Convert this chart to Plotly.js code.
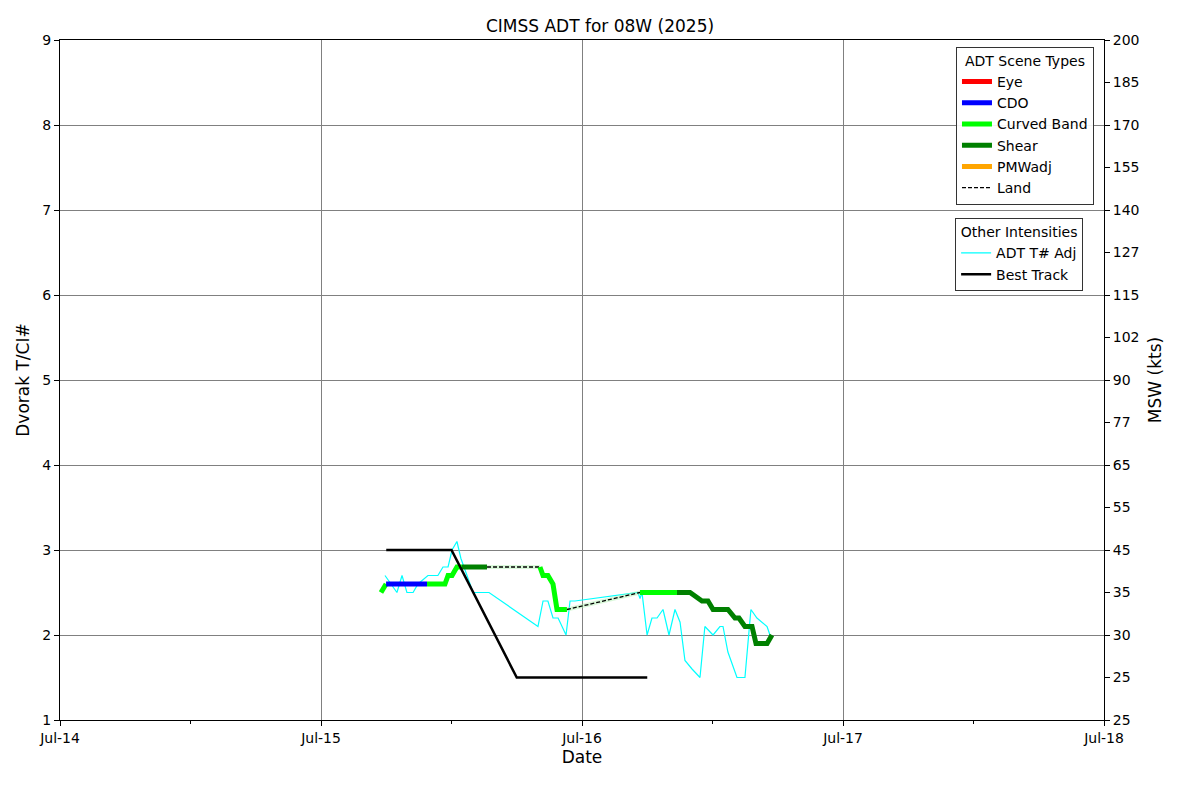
<!DOCTYPE html>
<html>
<head>
<meta charset="utf-8">
<script src="https://cdn.plot.ly/plotly-3.0.1.min.js"></script>
<style>html,body{margin:0;padding:0;background:#fff;}#chart{width:1200px;height:800px;}</style>
</head>
<body>
<div id="chart"></div>
<script>
// ---- Data ----
const sceneNames = ['Eye', 'CDO', 'Curved Band', 'Shear', 'PMWadj', 'Land'];
const sceneColors = ['#ff0000', '#0000ff', '#00ff00', '#008000', '#ffa500', '#000000'];

// ADT final T# with scene type (scene of segment ending at that point)
const adtTimes = ['2025-07-15 05:31','2025-07-15 05:59','2025-07-15 09:45','2025-07-15 11:24','2025-07-15 11:41',
  '2025-07-15 12:03','2025-07-15 12:30','2025-07-15 12:58','2025-07-15 15:16','2025-07-15 20:08',
  '2025-07-15 20:25','2025-07-15 20:52','2025-07-15 21:20','2025-07-15 21:42','2025-07-15 22:37',
  '2025-07-16 05:20','2025-07-16 08:44','2025-07-16 09:56','2025-07-16 11:02','2025-07-16 11:35',
  '2025-07-16 12:03','2025-07-16 13:25','2025-07-16 14:04','2025-07-16 14:26','2025-07-16 14:59',
  '2025-07-16 15:38','2025-07-16 16:00','2025-07-16 17:01','2025-07-16 17:28'];
const adtTnum = [2.5,2.6,2.6,2.6,2.7, 2.7,2.8,2.8,2.8,2.8, 2.7,2.7,2.6,2.3,2.3, 2.5,2.5,2.5,2.4,2.4,
  2.3,2.3,2.2,2.2,2.1, 2.1,1.9,1.9,2.0];
const adtScene = ['Curved Band','Curved Band','CDO','Curved Band','Curved Band',
  'Curved Band','Curved Band','Curved Band','Shear','Land',
  'Curved Band','Curved Band','Curved Band','Curved Band','Curved Band',
  'Land','Curved Band','Shear','Shear','Shear',
  'Shear','Shear','Shear','Shear','Shear',
  'Shear','Shear','Shear','Shear'];

// ADT T# Adj
const adjTimes = ['2025-07-15 05:53','2025-07-15 06:26','2025-07-15 06:59','2025-07-15 07:27','2025-07-15 07:54',
  '2025-07-15 08:28','2025-07-15 08:55','2025-07-15 09:50','2025-07-15 10:45','2025-07-15 11:13',
  '2025-07-15 11:41','2025-07-15 12:03','2025-07-15 12:30','2025-07-15 12:52','2025-07-15 13:25',
  '2025-07-15 13:59','2025-07-15 15:27','2025-07-15 19:57','2025-07-15 20:25','2025-07-15 20:52',
  '2025-07-15 21:20','2025-07-15 21:48','2025-07-15 22:32','2025-07-15 22:54','2025-07-15 23:21',
  '2025-07-16 05:09','2025-07-16 05:20','2025-07-16 05:31','2025-07-16 05:59','2025-07-16 06:26',
  '2025-07-16 06:54','2025-07-16 07:27','2025-07-16 08:00','2025-07-16 08:33','2025-07-16 09:01',
  '2025-07-16 09:28','2025-07-16 10:07','2025-07-16 10:51','2025-07-16 11:18','2025-07-16 12:03',
  '2025-07-16 12:41','2025-07-16 12:58','2025-07-16 13:25','2025-07-16 14:15','2025-07-16 14:59',
  '2025-07-16 15:32','2025-07-16 16:05','2025-07-16 17:01','2025-07-16 17:17'];
const adjTnum = [2.7,2.6,2.5,2.7,2.5, 2.5,2.6,2.7,2.7,2.8, 2.8,3.0,3.1,2.9,2.7, 2.5,2.5,2.1,2.4,2.4,
  2.2,2.2,2.0,2.4,2.4, 2.5,2.43,2.5,2.0,2.2, 2.2,2.3,2.0,2.3,2.15, 1.7,1.6,1.5,2.1,2.0,
  2.1,2.1,1.8,1.5,1.5, 2.3,2.2,2.1,2.0];

// Best Track
const btTimes = ['2025-07-15 06:00','2025-07-15 12:00','2025-07-15 18:00','2025-07-16 00:00','2025-07-16 06:00'];
const btTnum = [3.0, 3.0, 1.5, 1.5, 1.5];

// Axis ticks
const dateTickVals = ['2025-07-14','2025-07-15','2025-07-16','2025-07-17','2025-07-18'];
const dateTickText = ['Jul-14','Jul-15','Jul-16','Jul-17','Jul-18'];
const mswTnum = [1,1.5,2,2.5,3,3.5,4,4.5,5,5.5,6,6.5,7,7.5,8,8.5,9];
const mswLabels = ['25','25','30','35','45','55','65','77','90','102','115','127','140','155','170','185','200'];

// ---- Traces ----
const traces = [];
const FONT = 'DejaVu Sans, sans-serif';

// T# Adj (under scene lines)
traces.push({x: adjTimes, y: adjTnum, mode: 'lines', name: 'ADT T# Adj', legend: 'legend2',
  line: {color: '#00ffff', width: 1.2}});

// scene runs
const runs = [];
for (let i = 1; i < adtTimes.length; i++) {
  const s = adtScene[i];
  const last = runs[runs.length - 1];
  if (last && last.scene === s) {
    last.x.push(adtTimes[i]); last.y.push(adtTnum[i]);
  } else {
    runs.push({scene: s, x: [adtTimes[i-1], adtTimes[i]], y: [adtTnum[i-1], adtTnum[i]]});
  }
}
runs.forEach(r => {
  const idx = sceneNames.indexOf(r.scene);
  if (r.scene === 'Land') {
    traces.push({x: r.x, y: r.y, mode: 'lines', showlegend: false,
      line: {color: 'rgba(170,240,170,0.45)', width: 4}});
    traces.push({x: r.x, y: r.y, mode: 'lines', showlegend: false,
      line: {color: '#000000', width: 1.3, dash: '4px,2px'}});
  } else {
    traces.push({x: r.x, y: r.y, mode: 'lines', showlegend: false,
      line: {color: sceneColors[idx], width: 5}});
  }
});

// Best track
traces.push({x: btTimes, y: btTnum, mode: 'lines', name: 'Best Track', legend: 'legend2',
  line: {color: '#000000', width: 2.5}});

// legend entries for scene types
sceneNames.forEach((s, i) => {
  traces.push({x: [null], y: [null], mode: 'lines', name: s, legend: 'legend',
    line: s === 'Land' ? {color: '#000000', width: 1.3, dash: '4px,2px'} : {color: sceneColors[i], width: 5}});
});

// dummy on right axis
traces.push({x: [dateTickVals[0]], y: [1], yaxis: 'y2', mode: 'markers', showlegend: false,
  marker: {opacity: 0}});

const layout = {
  width: 1200, height: 800,
  margin: {l: 60, r: 96, t: 40, b: 80},
  paper_bgcolor: '#ffffff', plot_bgcolor: '#ffffff',
  font: {family: FONT, size: 14, color: '#000000'},
  title: {text: 'CIMSS ADT for 08W (2025)', font: {family: FONT, size: 17}, x: 0.5, xanchor: 'center', y: 0.9675, yanchor: 'middle'},
  xaxis: {
    type: 'date', range: ['2025-07-14', '2025-07-18'],
    tickvals: dateTickVals, ticktext: dateTickText,
    showgrid: true, gridcolor: '#808080', gridwidth: 1,
    showline: true, linecolor: '#000000', linewidth: 1, mirror: true,
    ticks: 'outside', ticklen: 5, tickcolor: '#000000',
    minor: {dtick: 43200000, ticks: 'outside', ticklen: 3, tickcolor: '#000000', showgrid: false},
    tickfont: {family: FONT, size: 14},
    title: {text: 'Date', font: {family: FONT, size: 17}, standoff: 6},
    zeroline: false
  },
  yaxis: {
    range: [1, 9], dtick: 1, tick0: 1,
    showgrid: true, gridcolor: '#808080', gridwidth: 1,
    showline: true, linecolor: '#000000', linewidth: 1, mirror: true,
    ticks: 'outside', ticklen: 5, tickcolor: '#000000',
    tickfont: {family: FONT, size: 14},
    title: {text: 'Dvorak T/CI#', font: {family: FONT, size: 17}, standoff: 8},
    zeroline: false
  },
  yaxis2: {
    overlaying: 'y', side: 'right', anchor: 'x',
    range: [1, 9], tickvals: mswTnum, ticktext: mswLabels,
    showgrid: false, zeroline: false,
    ticks: 'outside', ticklen: 5, tickcolor: '#000000',
    tickfont: {family: FONT, size: 14},
    title: {text: 'MSW (kts)', font: {family: FONT, size: 17}, standoff: 10}
  },
  legend: {
    title: {text: 'ADT Scene Types', side: 'top center', font: {family: FONT, size: 14}},
    x: 0.9904, xanchor: 'right', y: 0.99, yanchor: 'top',
    bgcolor: 'rgba(255,255,255,0.9)', bordercolor: '#333333', borderwidth: 1,
    font: {family: FONT, size: 14}, tracegroupgap: 0, itemwidth: 30
  },
  legend2: {
    title: {text: 'Other Intensities', side: 'top center', font: {family: FONT, size: 14}},
    x: 0.98, xanchor: 'right', y: 0.738, yanchor: 'top',
    bgcolor: 'rgba(255,255,255,0.9)', bordercolor: '#333333', borderwidth: 1,
    font: {family: FONT, size: 14}, tracegroupgap: 0, itemwidth: 30
  },
  showlegend: true
};

Plotly.newPlot('chart', traces, layout, {displayModeBar: false, staticPlot: true});
</script>
</body>
</html>
